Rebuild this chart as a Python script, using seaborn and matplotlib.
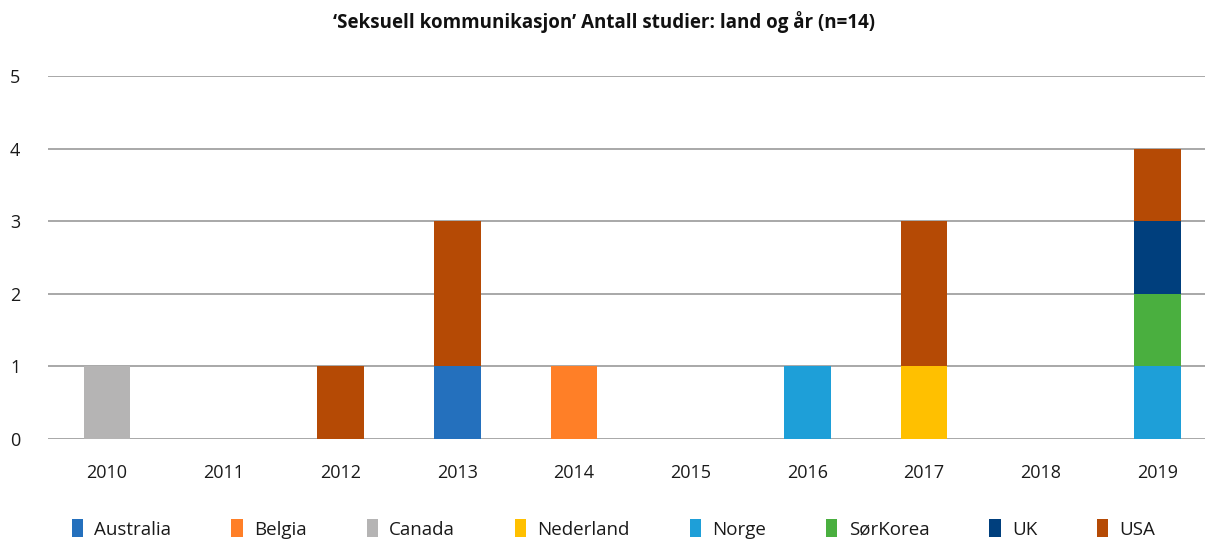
import matplotlib
matplotlib.use("Agg")
import matplotlib.pyplot as plt
import seaborn as sns
import numpy as np
import pandas as pd
from matplotlib.patches import Patch

sns.set_theme(style="white")
plt.rcParams["font.family"] = ["Open Sans", "DejaVu Sans"]

years = ["2010", "2011", "2012", "2013", "2014", "2015", "2016", "2017", "2018", "2019"]
countries = ["Australia", "Belgia", "Canada", "Nederland", "Norge", "SørKorea", "UK", "USA"]
colors = ["#2470BD", "#FF7F27", "#B5B4B4", "#FFC000", "#1E9FD8", "#4AAF3F", "#003F7D", "#B54A05"]

australia = [0, 0, 0, 1, 0, 0, 0, 0, 0, 0]
belgia    = [0, 0, 0, 0, 1, 0, 0, 0, 0, 0]
canada    = [1, 0, 0, 0, 0, 0, 0, 0, 0, 0]
nederland = [0, 0, 0, 0, 0, 0, 0, 1, 0, 0]
norge     = [0, 0, 0, 0, 0, 0, 1, 0, 0, 1]
sorkorea  = [0, 0, 0, 0, 0, 0, 0, 0, 0, 1]
uk        = [0, 0, 0, 0, 0, 0, 0, 0, 0, 1]
usa       = [0, 0, 1, 2, 0, 0, 0, 2, 0, 1]

series = [australia, belgia, canada, nederland, norge, sorkorea, uk, usa]

fig = plt.figure(figsize=(12.08, 5.41), dpi=100)
ax = fig.add_axes([48 / 1208, 102 / 541, 1157 / 1208, 363 / 541])

bottom = np.zeros(len(years))
for name, vals, col in zip(countries, series, colors):
    df = pd.DataFrame({"year": years, "n": vals})
    sns.barplot(data=df, x="year", y="n", order=years, color=col, width=0.4,
                bottom=bottom, ax=ax, saturation=1, linewidth=0, zorder=3)
    bottom = bottom + np.array(vals)

ax.set_ylim(0, 5)
ax.set_xlim(-0.506, 9.408)
ax.set_yticks(range(0, 6))
ax.yaxis.grid(True, color="#9a9a9a", linewidth=1.2, zorder=0)
ax.set_axisbelow(True)
for s in ax.spines.values():
    s.set_visible(False)
ax.set_xlabel("")
ax.set_ylabel("")
ax.tick_params(axis="x", length=0, pad=18, labelsize=13, labelcolor="#1a1a1a")
ax.tick_params(axis="y", length=0, pad=20, labelsize=13, labelcolor="#1a1a1a")

fig.text(0.5, 1 - 22 / 541, "‘Seksuell kommunikasjon’ Antall studier: land og år (n=14)",
         ha="center", va="center", fontsize=13.5, fontweight="bold", color="#111111")

handles = [Patch(facecolor=c, edgecolor="none") for c in colors]
fig.legend(handles, countries, loc="center", bbox_to_anchor=(0.508, 12 / 541), ncol=8,
           frameon=False, fontsize=13.5, handlelength=0.6, handleheight=1.1,
           handletextpad=0.6, columnspacing=3.2, labelcolor="#1a1a1a")

fig.savefig("out.png", dpi=100)
